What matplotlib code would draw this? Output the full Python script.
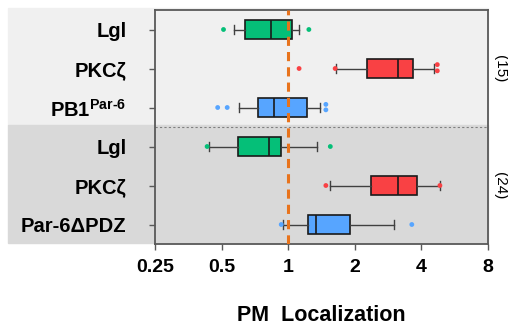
import matplotlib
matplotlib.use("Agg")
import matplotlib.pyplot as plt
from matplotlib.patches import Rectangle

plt.rcParams['font.family'] = ['Liberation Sans', 'DejaVu Sans']
plt.rcParams['mathtext.fontset'] = 'custom'
plt.rcParams['mathtext.rm'] = 'Liberation Sans:bold'
plt.rcParams['mathtext.bf'] = 'Liberation Sans:bold'

# rows, top to bottom
labels = ['Lgl', 'PKCζ', 'PB1$^{\\mathbf{Par\u20106}}$', 'Lgl', 'PKCζ', 'Par-6ΔPDZ']
whislo = [0.57, 1.64, 0.60, 0.44, 1.55, 0.95]
q1 = [0.64, 2.28, 0.73, 0.59, 2.37, 1.23]
med = [0.84, 3.13, 0.86, 0.82, 3.13, 1.33]
q3 = [1.04, 3.66, 1.21, 0.93, 3.84, 1.91]
whishi = [1.12, 4.58, 1.39, 1.35, 4.85, 3.02]
fliers = [[0.51, 1.24], [1.12, 1.63, 4.72, 4.72], [0.48, 0.53, 1.48, 1.48],
          [0.43, 1.55], [1.48, 4.85], [0.93, 3.62]]
flier_dy = [[0, 0], [0, 0, -0.1, 0.06], [0, 0, -0.08, 0.06], [0, 0], [0, 0], [0, 0]]
n_cells = ['(15)', '(24)']

GREEN = '#05bf78'
RED = '#f94144'
BLUE = '#57a5ff'
colors = [GREEN, RED, BLUE, GREEN, RED, BLUE]

fig = plt.figure(figsize=(5.08, 3.30), dpi=100)
W, H = 508, 330

# background bands (pixel coords -> figure fraction)
fig.patches.append(Rectangle((8 / W, 1 - 125 / H), 480 / W, 117 / H,
                             transform=fig.transFigure, color='#f0f0f0', zorder=-10))
fig.patches.append(Rectangle((8 / W, 1 - 243 / H), 480 / W, 118 / H,
                             transform=fig.transFigure, color='#d9d9d9', zorder=-10))

ax = fig.add_axes([155 / W, 1 - 244 / H, 333 / W, 234 / H])
ax.set_facecolor('none')

stats = []
for i in range(len(labels)):
    stats.append(dict(whislo=whislo[i], q1=q1[i], med=med[i], q3=q3[i],
                      whishi=whishi[i], fliers=[]))

bp = ax.bxp(stats, positions=range(len(labels)), orientation='horizontal',
            widths=0.51, patch_artist=True, showfliers=False,
            boxprops=dict(linewidth=1.2, edgecolor='#1a1a1a'),
            medianprops=dict(color='#1a1a1a', linewidth=1.2),
            whiskerprops=dict(color='#404040', linewidth=1.0),
            capprops=dict(color='#404040', linewidth=1.0),
            capwidths=0.23)
for patch, c in zip(bp['boxes'], colors):
    patch.set_facecolor(c)

for i, (fl, dy) in enumerate(zip(fliers, flier_dy)):
    ax.scatter(fl, [i + d for d in dy], s=12, color=colors[i], edgecolors='none', zorder=4)

ax.axvline(1, color='#e8731c', linestyle=(0, (3, 2)), linewidth=2.2, zorder=5)
ax.axhline(2.5, color='#7f7f7f', linestyle=(0, (2, 2)), linewidth=0.8)

ax.set_xscale('log', base=2)
ax.set_xlim(0.25, 8)
ax.set_ylim(5.5, -0.5)
ax.set_xticks([0.25, 0.5, 1, 2, 4, 8])
ax.set_xticklabels(['0.25', '0.5', '1', '2', '4', '8'])
ax.minorticks_off()
ax.set_yticks(range(len(labels)))
ax.set_yticklabels(labels)

for lab in ax.get_yticklabels():
    lab.set_fontweight('bold')
    lab.set_fontsize(14.5)
for lab in ax.get_xticklabels():
    lab.set_fontweight('bold')
    lab.set_fontsize(14)

ax.tick_params(axis='y', length=4, width=1, color='#595959', pad=16.5)
ax.tick_params(axis='x', length=4, width=1, color='#595959', pad=7)
for sp in ax.spines.values():
    sp.set_color('#595959')
    sp.set_linewidth(1.3)

ax.set_xlabel('PM  Localization', fontsize=15.5, fontweight='bold', labelpad=21)

ax.text(1.035, 1, n_cells[0], transform=ax.get_yaxis_transform(), rotation=270,
        ha='center', va='center', fontsize=11)
ax.text(1.035, 4, n_cells[1], transform=ax.get_yaxis_transform(), rotation=270,
        ha='center', va='center', fontsize=11)

fig.savefig('out.png', dpi=100)
